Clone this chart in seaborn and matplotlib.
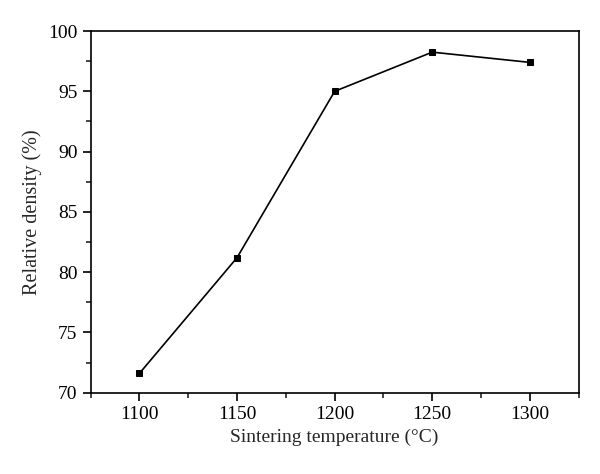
import numpy as np
import pandas as pd
import seaborn as sns
import matplotlib.pyplot as plt
from matplotlib.ticker import MultipleLocator

# sintering temperature vs relative density
temps = [1100, 1150, 1200, 1250, 1300]
density = [71.6, 81.2, 95.0, 98.25, 97.4]

df = pd.DataFrame({'temp': temps, 'density': density})

sns.set_style('ticks')
plt.rcParams['font.family'] = ['Liberation Serif', 'DejaVu Serif']

fig = plt.figure(figsize=(6, 4.74), dpi=100)
ax = fig.add_axes([0.151, 0.1715, 0.8135, 0.763])

sns.lineplot(data=df, x='temp', y='density', ax=ax, color='black', lw=1.2,
             marker='s', markersize=5, markeredgecolor='black')

ax.set_xlim(1075, 1325)
ax.set_ylim(70, 100)
ax.xaxis.set_major_locator(MultipleLocator(50))
ax.xaxis.set_minor_locator(MultipleLocator(25))
ax.yaxis.set_major_locator(MultipleLocator(5))
ax.yaxis.set_minor_locator(MultipleLocator(2.5))
ax.tick_params(which='major', direction='out', length=6, width=1.2, labelsize=14, colors='black')
ax.tick_params(which='minor', direction='out', length=3.5, width=1.2)
ax.tick_params(top=False, right=False, which='both')
for s in ax.spines.values():
    s.set_linewidth(1.2)
    s.set_color('black')

ax.set_xlabel('Sintering temperature (°C)', fontsize=14, labelpad=4)
ax.set_ylabel('Relative density (%)', fontsize=14.5, labelpad=4)

plt.savefig('out.png', dpi=100)
